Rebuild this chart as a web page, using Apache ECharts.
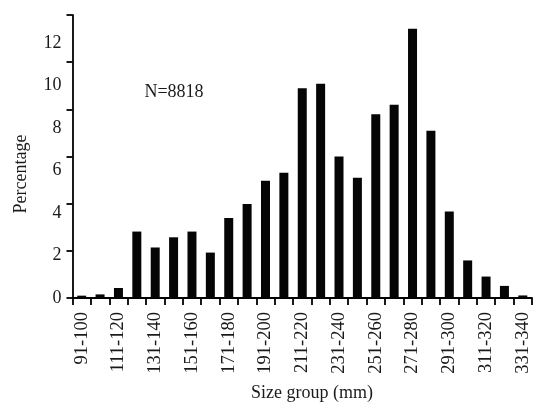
<!DOCTYPE html>
<html>
<head>
<meta charset="utf-8">
<script src="https://cdn.jsdelivr.net/npm/echarts@6/dist/echarts.min.js"></script>
<style>
html,body{margin:0;padding:0;background:#fff;}
#chart{width:533px;height:402px;}
</style>
</head>
<body>
<div id="chart"></div>
<script>
const categories = ["91-100","101-110","111-120","121-130","131-140","141-150","151-160","161-170","171-180","181-190","191-200","201-210","211-220","221-230","231-240","241-250","251-260","261-270","271-280","281-290","291-300","301-310","311-320","321-330","331-340"];
const percentage = [0.11,0.17,0.47,3.13,2.38,2.86,3.13,2.14,3.77,4.43,5.52,5.90,9.88,10.10,6.67,5.67,8.66,9.11,12.68,7.88,4.08,1.77,1.01,0.57,0.12];
const yTickLabels = [0,2,4,6,8,10,12];
const annotation = "N=8818";
const xTitle = "Size group (mm)";
const yTitle = "Percentage";

const FONT = "Liberation Serif";
const gridRect = {left: 72.5, right: 1, top: 15, bottom: 104};
const chart = echarts.init(document.getElementById('chart'));
chart.setOption({
  animation: false,
  backgroundColor: '#fff',
  textStyle: {fontFamily: FONT},
  grid: [
    Object.assign({}, gridRect),
    Object.assign({}, gridRect)
  ],
  xAxis: [
    {
      type: 'category', gridIndex: 0, data: categories, boundaryGap: true,
      axisLine: {show: true, lineStyle: {color: '#000', width: 1.8}},
      axisTick: {show: true, interval: 0, length: 7, lineStyle: {color: '#000', width: 1.8}},
      axisLabel: {interval: 1, rotate: 90, margin: 14, fontSize: 18.5, color: '#1a1a1a', fontFamily: FONT, padding: [0, 0, 8, 0]},
      splitLine: {show: false}
    },
    {
      type: 'category', gridIndex: 1, data: categories, show: false
    }
  ],
  yAxis: [
    {
      type: 'value', gridIndex: 0, min: 0, max: 40/3, interval: 2,
      axisLine: {show: true, lineStyle: {color: '#000', width: 1.8}},
      axisTick: {show: false},
      axisLabel: {margin: 11, fontSize: 18, color: '#1a1a1a', fontFamily: FONT, showMaxLabel: false,
        formatter: function (v) { return yTickLabels.indexOf(v) >= 0 ? String(v) : ''; }},
      splitLine: {show: false}
    },
    {
      type: 'value', gridIndex: 1, min: 0, max: 6, interval: 1,
      axisLine: {show: false},
      axisTick: {show: true, length: 6, lineStyle: {color: '#000', width: 1.8}},
      axisLabel: {show: false},
      splitLine: {show: false}
    }
  ],
  series: [{
    type: 'bar', xAxisIndex: 0, yAxisIndex: 0, data: percentage,
    barWidth: 9, itemStyle: {color: '#050505'}
  }],
  graphic: [
    {type: 'text', x: 174, y: 92, style: {text: annotation, font: '18px "Liberation Serif"', fill: '#1a1a1a', align: 'center', verticalAlign: 'middle'}},
    {type: 'text', x: 312, y: 393, style: {text: xTitle, font: '18px "Liberation Serif"', fill: '#1a1a1a', align: 'center', verticalAlign: 'middle'}},
    {type: 'text', x: 21, y: 174, rotation: Math.PI / 2, style: {text: yTitle, font: '18px "Liberation Serif"', fill: '#1a1a1a', align: 'center', verticalAlign: 'middle'}}
  ]
});
</script>
</body>
</html>
